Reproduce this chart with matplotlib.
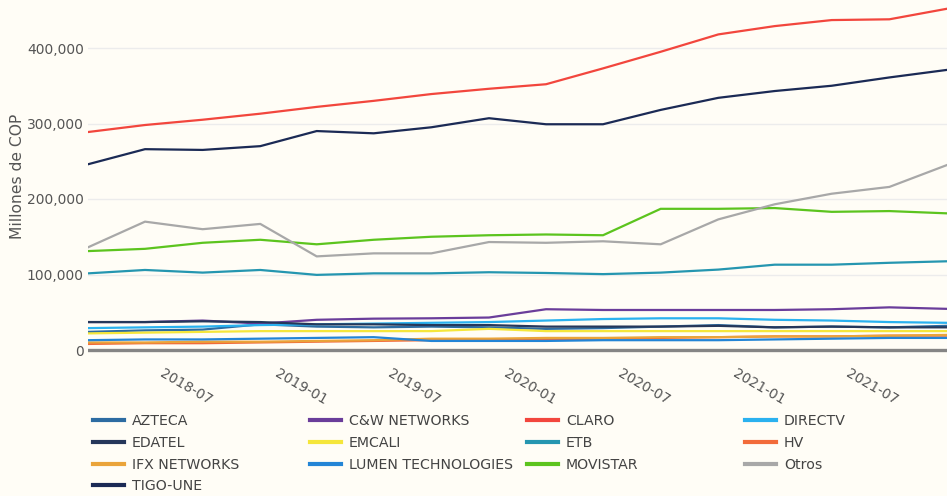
#!/usr/bin/env python3
"""Ingresos trimestrales por proveedor (Millones de COP)."""

import matplotlib

matplotlib.use("Agg")
import matplotlib.dates as mdates
import matplotlib.pyplot as plt
import matplotlib.transforms as mtransforms
from matplotlib.lines import Line2D
import pandas as pd

BG = "#fffdf6"
W, H = 947, 496

# quarterly periods (quarter end dates)
dates = [
    "2018-03-31", "2018-06-30", "2018-09-30", "2018-12-31",
    "2019-03-31", "2019-06-30", "2019-09-30", "2019-12-31",
    "2020-03-31", "2020-06-30", "2020-09-30", "2020-12-31",
    "2021-03-31", "2021-06-30", "2021-09-30", "2021-12-31",
]

azteca = [24000, 26000, 27000, 34000, 31000, 30000, 31000, 30000,
          28000, 29000, 31000, 33000, 30000, 31000, 30000, 32000]
cw_networks = [37000, 37000, 39000, 35000, 40000, 41500, 42000, 43000,
               54000, 53000, 53000, 53000, 53000, 54000, 56500, 54500]
claro = [288700, 298000, 305000, 313000, 322000, 330000, 339000, 346000,
         352000, 373000, 395000, 418000, 429000, 437000, 438000, 452000]
directv = [29000, 30000, 31000, 33000, 34000, 35000, 36000, 37000,
           39000, 41000, 42000, 42000, 40000, 39000, 37000, 36000]
edatel = [37000, 37000, 38000, 37000, 34000, 34000, 33000, 33000,
          31000, 31000, 31000, 32000, 30000, 31000, 30000, 30000]
emcali = [22000, 23000, 24000, 25000, 25000, 25000, 25000, 28000,
          25000, 25000, 25000, 25000, 25000, 25000, 25000, 25000]
etb = [101500, 106000, 102500, 106000, 99500, 101500, 101500, 103000,
       102000, 100500, 102500, 106500, 113000, 113000, 115500, 117500]
hv = [8000, 9000, 9000, 10000, 11000, 12000, 13000, 13000,
      14000, 15000, 16000, 17000, 18000, 18000, 19000, 19000]
ifx_networks = [10000, 10000, 11000, 11000, 12000, 13000, 15000, 15000,
                16000, 16000, 17000, 17000, 18000, 18000, 19000, 20000]
lumen = [13000, 14000, 14000, 15000, 16000, 17000, 12000, 12000,
         12000, 13000, 13000, 13000, 14000, 15000, 16000, 16000]
movistar = [131000, 134000, 142000, 146000, 140000, 146000, 150000, 152000,
            153000, 152000, 187000, 187000, 188000, 183000, 184000, 181000]
otros = [136000, 170000, 160000, 167000, 124000, 128000, 128000, 143000,
         142000, 144000, 140000, 173000, 193000, 207000, 216000, 245000]
tigo_une = [246000, 266000, 265000, 270000, 290000, 287000, 295000, 307000,
            299000, 299000, 318000, 334000, 343000, 350000, 361000, 371000]

series = [
    ("AZTECA", azteca, "#2d6ca2"),
    ("C&W NETWORKS", cw_networks, "#6a3d9a"),
    ("CLARO", claro, "#f2463d"),
    ("DIRECTV", directv, "#2ab1ef"),
    ("EDATEL", edatel, "#25375a"),
    ("EMCALI", emcali, "#f5e63a"),
    ("ETB", etb, "#2596b0"),
    ("HV", hv, "#f26b3a"),
    ("IFX NETWORKS", ifx_networks, "#eaa43a"),
    ("LUMEN TECHNOLOGIES", lumen, "#2385d6"),
    ("MOVISTAR", movistar, "#5cc41e"),
    ("Otros", otros, "#a8a8a8"),
    ("TIGO-UNE", tigo_une, "#1b2a55"),
]

x = pd.to_datetime(dates)

fig = plt.figure(figsize=(W / 100, H / 100), dpi=100, facecolor=BG)

# axes: left edge at first point, right edge at image edge
ax_left, ax_bottom_px = 88, 353
ax = fig.add_axes([ax_left / W, 1 - ax_bottom_px / H, 1 - ax_left / W, ax_bottom_px / H])
ax.set_facecolor(BG)

px_per_unit = 75.5 / 100000  # pixels per COP million
ax.set_ylim(-(ax_bottom_px - 350) / px_per_unit, 350 / px_per_unit)
ax.set_xlim(x[0], x[-1])

for name, vals, color in series:
    ax.plot(x, vals, color=color, linewidth=1.6, solid_joinstyle="round", zorder=3)

# zero line and grid
ax.axhline(0, color="#858585", linewidth=2.4, zorder=2)
ax.set_yticks([0, 100000, 200000, 300000, 400000])
ax.set_yticklabels(["0", "100,000", "200,000", "300,000", "400,000"])
ax.yaxis.grid(True, color="#ececec", linewidth=1, zorder=0)
ax.set_axisbelow(True)
for s in ax.spines.values():
    s.set_visible(False)

ax.xaxis.set_major_locator(mdates.MonthLocator(bymonth=[1, 7]))
ax.xaxis.set_major_formatter(mdates.DateFormatter("%Y-%m"))
ax.tick_params(axis="both", length=0, labelsize=10, labelcolor="#555555")
ax.tick_params(axis="y", pad=3)
ax.tick_params(axis="x", pad=14)

offset = mtransforms.ScaledTranslation(15 / 100, 0, fig.dpi_scale_trans)
for lbl in ax.get_xticklabels():
    lbl.set_rotation(-30)
    lbl.set_rotation_mode("anchor")
    lbl.set_ha("left")
    lbl.set_va("center")
    lbl.set_transform(lbl.get_transform() + offset)

fig.text(18 / W, 1 - 176 / H, "Millones de COP", rotation=90,
         ha="center", va="center", fontsize=11.2, color="#555555")

# legend: 4 fixed-width columns, filled row by row
col_x = [93, 310, 527, 745]
for c in range(4):
    items = series[c::4]
    handles = [Line2D([], [], color=col, linewidth=3) for _, _, col in items]
    labels = [n for n, _, _ in items]
    leg = fig.legend(handles, labels, loc="upper left",
                     bbox_to_anchor=(col_x[c] / W, 1 - 414 / H),
                     frameon=False, fontsize=10.2, handlelength=2.2,
                     handletextpad=0.55, labelspacing=0.55, borderaxespad=0,
                     borderpad=0)
    for t in leg.get_texts():
        t.set_color("#444444")

fig.savefig("out.png", dpi=100, facecolor=BG)
